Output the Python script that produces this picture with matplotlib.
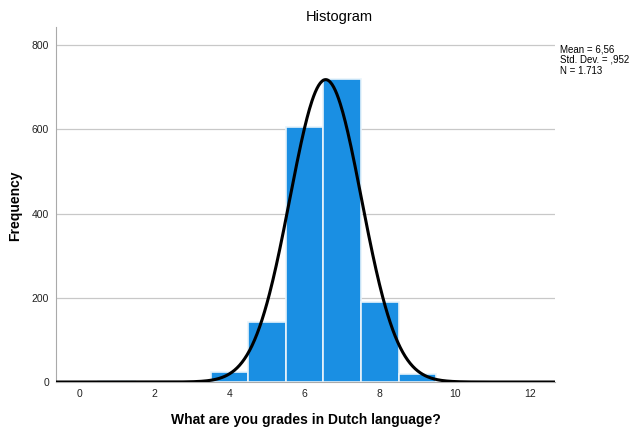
import numpy as np
import matplotlib
matplotlib.use("Agg")
import matplotlib.pyplot as plt

plt.rcParams['font.family'] = ['Liberation Sans', 'DejaVu Sans']

# grade bins (centre values) and counts
grades = [1, 4, 5, 6, 7, 8, 9]
counts = [2, 23, 143, 605, 719, 190, 20]
mean = 6.56
sd = 0.952
n = 1713
stats_text = "Mean = 6,56\nStd. Dev. = ,952\nN = 1.713"

fig = plt.figure(figsize=(6.3, 4.32), dpi=100)
ax = fig.add_axes([0.089, 0.1157, 0.792, 0.822])

ax.bar(grades, counts, width=1.0, color='#1a8fe3', edgecolor='#e8f3fb', linewidth=1.2, zorder=2)

# normal curve scaled to counts (bin width 1)
xs = np.linspace(-0.6, 12.66, 600)
ys = n * np.exp(-0.5 * ((xs - mean) / sd) ** 2) / (sd * np.sqrt(2 * np.pi))
ax.plot(xs, ys, color='black', linewidth=2.2, zorder=3)

ax.set_xlim(-0.61, 12.66)
ax.set_ylim(0, 843)
ax.set_xticks(range(0, 13, 2))
ax.set_yticks(range(0, 801, 200))
ax.tick_params(axis='both', length=0, labelsize=7.5, colors='#222222', pad=5)
ax.yaxis.grid(True, color='#c8c8c8', linewidth=0.9, zorder=0)
ax.set_axisbelow(True)
for s in ['top', 'right']:
    ax.spines[s].set_visible(False)
ax.spines['left'].set_color('#aaaaaa')
ax.spines['bottom'].set_color('#aaaaaa')

ax.set_xlabel("What are you grades in Dutch language?", fontsize=10, fontweight='bold', labelpad=10)
fig.text(15 / 630, 1 - 206 / 432, "Frequency", rotation=90, ha='center', va='center',
         fontsize=10, fontweight='bold')

fig.text(339 / 630, 1 - 17 / 432, "Histogram", ha='center', va='center', fontsize=10.5)
fig.text(560 / 630, 1 - 44 / 432, stats_text, ha='left', va='top', fontsize=7, linespacing=1.1)

fig.savefig("out.png", dpi=100)
